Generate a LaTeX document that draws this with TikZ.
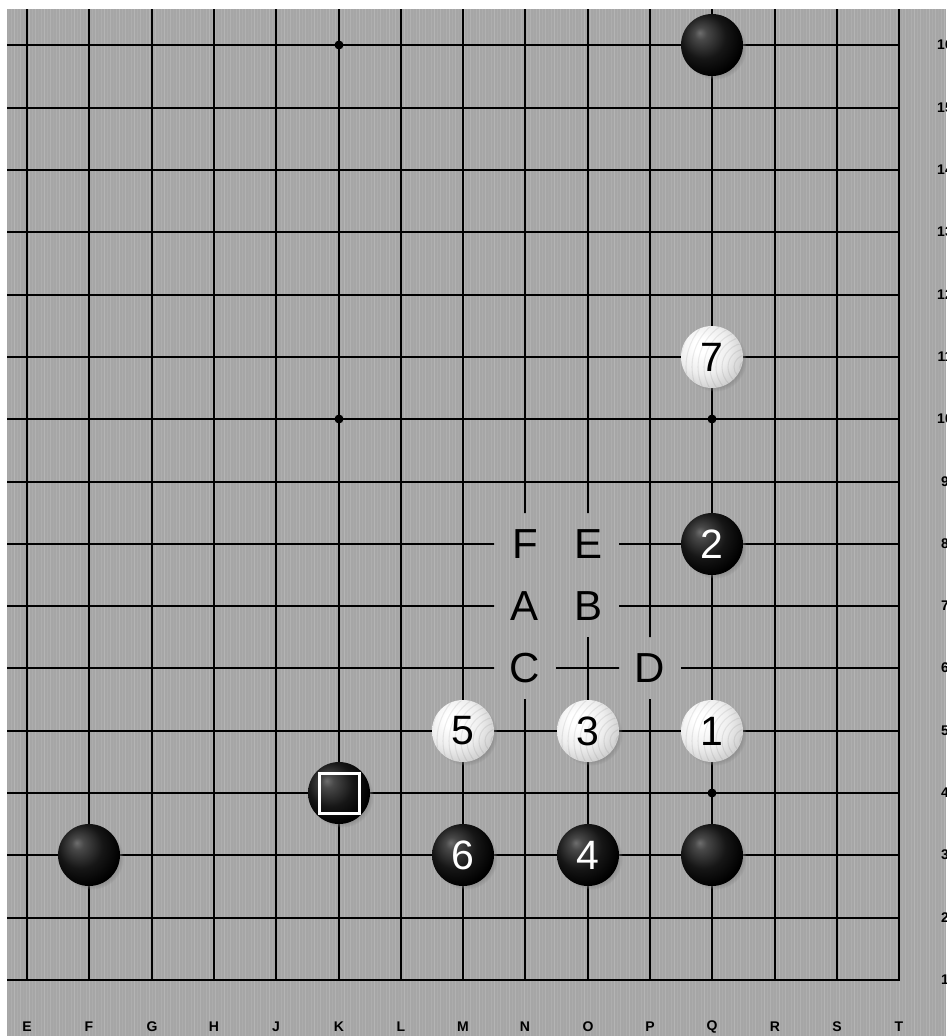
\documentclass[tikz,border=0pt]{standalone}
\usepackage{fontspec}
\setmainfont{Liberation Sans}
\usetikzlibrary{shadows,calc}
\definecolor{boardbg}{RGB}{166,166,166}
\definecolor{bsa}{RGB}{110,110,110}
\definecolor{bsb}{RGB}{72,72,72}
\definecolor{bsc}{RGB}{22,22,22}
\definecolor{wsb}{RGB}{238,238,238}
\definecolor{wsc}{RGB}{205,205,205}
\definecolor{wsd}{RGB}{160,160,160}
\pgfdeclareradialshading{bstoneshade}{\pgfpoint{-10bp}{10bp}}{color(0bp)=(bsa); color(5bp)=(bsb); color(18bp)=(bsc); color(30bp)=(black); color(60bp)=(black)}
\pgfdeclareradialshading{wstoneshade}{\pgfpoint{-10bp}{10bp}}{color(0bp)=(white); color(6bp)=(white); color(20bp)=(wsb); color(32bp)=(wsc); color(45bp)=(wsd); color(60bp)=(wsd)}
\tikzset{
  gridline/.style={line width=2pt, black, line cap=rect},
  hoshi/.style={circle, fill=black, inner sep=0pt, minimum size=9pt},
  stonebase/.style={circle, minimum size=62pt, inner sep=0pt,
    circular drop shadow={shadow xshift=3pt, shadow yshift=-3pt, shadow scale=1.02, opacity=0.55}},
  bstone/.style={stonebase, shading=bstoneshade},
  wstone/.style={stonebase, shading=wstoneshade},
  stonenum/.style={inner sep=0pt, font=\fontsize{41}{41}\selectfont},
  ptlabel/.style={minimum size=62pt, inner sep=0pt, font=\fontsize{42}{42}\selectfont},
  coordlabel/.style={inner sep=0pt, font=\fontsize{14}{14}\selectfont\bfseries},
  marksq/.style={draw=white, line width=3pt, minimum size=40pt, inner sep=0pt}
}
\newcommand\woodgrain[1]{%
  \begin{scope}
    \clip (#1) circle (30.5);
    \foreach \rr in {6,12,...,84}
      \draw[black, opacity=0.07, line width=1.1pt] ($(#1)+(34,10)$) circle (\rr);
  \end{scope}}
\begin{document}
\begin{tikzpicture}[x=1pt,y=-1pt]
\useasboundingbox (0,0) rectangle (946,1036);
\clip (0,0) rectangle (946,1036);
\fill[white] (0,0) rectangle (946,1036);
\fill[boardbg] (7,9) rectangle (946,1036);
% wood stripes
\foreach \i in {0,...,312}{
  \pgfmathsetmacro\op{0.04+0.03*mod(\i*7,5)}
  \draw[white, opacity=\op, line width=1.2pt] ({8.5+3*\i},9) -- ({8.5+3*\i},1036);
}
% coordinates of intersections
\foreach \c [count=\i from 0] in {E,F,G,H,J,K,L,M,N,O,P,Q,R,S,T}{
  \foreach \r in {1,...,16}{
    \coordinate (\c\r) at ({round(27+62.3*\i)},{round(980-62.3*(\r-1))});
  }
}
% grid (left open where letters stand)
\begin{scope}[even odd rule]
  \clip (7,9) rectangle (946,1036)
    ($(N8)+(-31,-31)$) -- ($(O8)+(31,-31)$) -- ($(O7)+(31,31)$)
    -- ($(N6)+(31,-31)$) -- ($(N6)+(31,31)$) -- ($(N6)+(-31,31)$) -- cycle
    ($(P6)+(-31,-31)$) rectangle ($(P6)+(31,31)$);
  \foreach \c in {E,F,G,H,J,K,L,M,N,O,P,Q,R,S,T}
    \draw[gridline] (\c1) -- (\c16 |- 0,9);
  \foreach \r in {1,...,16}
    \draw[gridline] (E\r -| 7,0) -- (T\r);
\end{scope}
% star points
\foreach \p in {K16,K10,Q10,Q4}
  \node[hoshi] (hoshi-\p) at (\p) {};
% letter labels
\node[ptlabel] (lab-F) at (N8) {F};
\node[ptlabel] (lab-E) at (O8) {E};
\node[ptlabel] (lab-A) at (N7) {A};
\node[ptlabel] (lab-B) at (O7) {B};
\node[ptlabel] (lab-C) at (N6) {C};
\node[ptlabel] (lab-D) at (P6) {D};
% coordinate labels
\foreach \c in {E,F,G,H,J,K,L,M,N,O,P,Q,R,S,T}
  \node[coordlabel] (col-\c) at (\c1 |- 0,1027) {\c};
\foreach \r in {1,...,16}
  \node[coordlabel] (row-\r) at (T\r -| 945,0) {\r};
% black stones
\node[bstone] (st-Q16) at (Q16) {};
\node[bstone] (st-Q8) at (Q8) {};
\node[bstone] (st-O3) at (O3) {};
\node[bstone] (st-M3) at (M3) {};
\node[bstone] (st-Q3) at (Q3) {};
\node[bstone] (st-F3) at (F3) {};
\node[bstone] (st-K4) at (K4) {};
\node[stonenum, text=white] (num-2) at (st-Q8) {2};
\node[stonenum, text=white] (num-4) at (st-O3) {4};
\node[stonenum, text=white] (num-6) at (st-M3) {6};
\node[marksq] (mark-K4) at (st-K4) {};
% white stones
\node[wstone] (st-Q11) at (Q11) {};
\node[wstone] (st-Q5) at (Q5) {};
\node[wstone] (st-O5) at (O5) {};
\node[wstone] (st-M5) at (M5) {};
\woodgrain{Q11}
\woodgrain{Q5}
\woodgrain{O5}
\woodgrain{M5}
\node[stonenum, text=black] (num-7) at (st-Q11) {7};
\node[stonenum, text=black] (num-1) at (st-Q5) {1};
\node[stonenum, text=black] (num-3) at (st-O5) {3};
\node[stonenum, text=black] (num-5) at (st-M5) {5};
\end{tikzpicture}
\end{document}
